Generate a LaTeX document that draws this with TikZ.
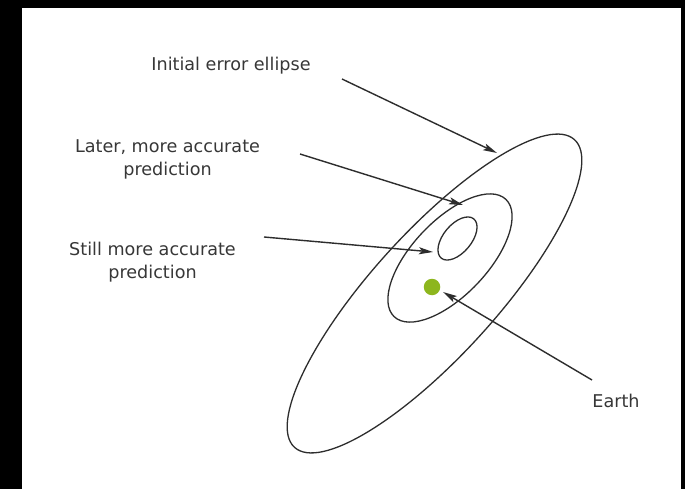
\documentclass[tikz,border=0pt]{standalone}
\usepackage{fontspec}
\setmainfont{DejaVu Sans}
\usetikzlibrary{arrows.meta,shapes.geometric}
\definecolor{earthgreen}{RGB}{141,182,30}
\definecolor{ink}{RGB}{45,45,45}
\definecolor{textink}{RGB}{55,55,55}
\begin{document}
\begin{tikzpicture}[x=1pt,y=-1pt,
  lbl/.style={text=textink,font=\fontsize{17.6}{23}\selectfont,align=center,inner sep=0pt},
  orbit/.style={draw=ink,line width=1.3pt,ellipse,inner sep=0pt},
  pointer/.style={draw=ink,line width=1.4pt,-{Stealth[length=14pt,width=7pt,inset=3pt]}}]
\useasboundingbox (0,0) rectangle (685,489);
\fill[black] (0,0) rectangle (685,489);
\fill[white] (22,8) rectangle (681,489);
% ellipses
\node[orbit,minimum width=416pt,minimum height=124pt,rotate=47.7] (outer) at (434.5,293.5) {};
\node[orbit,minimum width=162pt,minimum height=75pt,rotate=46.4] (middle) at (450,258) {};
\node[orbit,minimum width=51pt,minimum height=28pt,rotate=50.2] (inner) at (457.5,238.5) {};
\node[circle,fill=earthgreen,minimum size=16.5pt,inner sep=0pt] (earth) at (432,287) {};
% labels
\node[lbl] (linit) at (231,66) {Initial error ellipse};
\node[lbl] (llater) at (167.5,159.5) {Later, more accurate\\prediction};
\node[lbl] (lstill) at (152.5,262.5) {Still more accurate\\prediction};
\node[lbl] (learth) at (616,401) {Earth};
% arrow ends
\coordinate (t1) at (342,79);  \coordinate (h1) at (497,153);
\coordinate (t2) at (300,154); \coordinate (h2) at (463,205);
\coordinate (t3) at (264,237); \coordinate (h3) at (433,252);
\coordinate (t4) at (592,380); \coordinate (h4) at (443,292);
\draw[pointer] (t1) -- (h1);
\draw[pointer] (t2) -- (h2);
\draw[pointer] (t3) -- (h3);
\draw[pointer] (t4) -- (h4);
\end{tikzpicture}
\end{document}
